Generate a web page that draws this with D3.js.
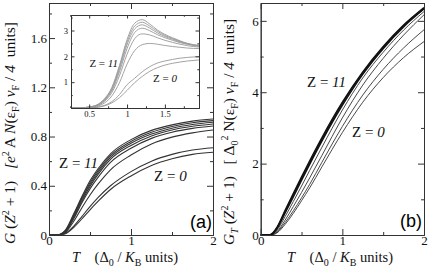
<!DOCTYPE html>
<html>
<script src="https://d3js.org/d3.v7.js"></script>
<body style="margin:0;background:#fff">
<svg id="chart" width="429" height="273"></svg>
<script>
// temperature grid (Delta0/KB units)
const tMain = [0, 0.1, 0.15, 0.2, 0.3, 0.4, 0.5, 0.6, 0.75, 1.0, 1.25, 1.5, 1.75, 2.0];
// panel (a): G(Z^2+1), curves from Z = 11 (top) down to Z = 0
const gA = [
  [0, 0, 0.01, 0.04, 0.17, 0.31, 0.44, 0.54, 0.66, 0.775, 0.85, 0.895, 0.925, 0.942],
  [0, 0, 0.01, 0.035, 0.16, 0.30, 0.425, 0.525, 0.645, 0.76, 0.835, 0.882, 0.912, 0.929],
  [0, 0, 0.008, 0.03, 0.15, 0.29, 0.41, 0.51, 0.63, 0.745, 0.82, 0.868, 0.898, 0.916],
  [0, 0, 0.007, 0.028, 0.14, 0.275, 0.395, 0.495, 0.615, 0.728, 0.805, 0.853, 0.883, 0.902],
  [0, 0, 0.006, 0.025, 0.13, 0.26, 0.375, 0.47, 0.59, 0.705, 0.785, 0.835, 0.866, 0.885],
  [0, 0, 0.005, 0.02, 0.11, 0.22, 0.325, 0.415, 0.53, 0.65, 0.74, 0.795, 0.83, 0.853],
  [0, 0, 0.003, 0.012, 0.07, 0.15, 0.23, 0.305, 0.40, 0.515, 0.60, 0.655, 0.69, 0.709],
  [0, 0, 0.002, 0.01, 0.06, 0.13, 0.205, 0.275, 0.37, 0.48, 0.565, 0.62, 0.655, 0.672]
];
// panel (b): G_T(Z^2+1)
const gB = [
  [0, 0, 0.06, 0.22, 0.70, 1.17, 1.63, 2.08, 2.73, 3.72, 4.57, 5.28, 5.88, 6.37],
  [0, 0, 0.05, 0.20, 0.66, 1.12, 1.58, 2.03, 2.68, 3.68, 4.54, 5.25, 5.86, 6.35],
  [0, 0, 0.04, 0.18, 0.62, 1.07, 1.53, 1.98, 2.63, 3.63, 4.50, 5.22, 5.83, 6.33],
  [0, 0, 0.03, 0.14, 0.52, 0.94, 1.37, 1.81, 2.46, 3.50, 4.40, 5.12, 5.74, 6.26],
  [0, 0, 0.02, 0.10, 0.42, 0.80, 1.19, 1.60, 2.23, 3.28, 4.20, 4.95, 5.60, 6.17],
  [0, 0, 0.015, 0.08, 0.35, 0.68, 1.04, 1.42, 2.04, 3.04, 3.92, 4.64, 5.24, 5.75],
  [0, 0, 0.01, 0.06, 0.30, 0.61, 0.96, 1.32, 1.91, 2.87, 3.72, 4.41, 4.97, 5.42]
];
// inset of (a)
const tInset = [0.26, 0.4, 0.5, 0.6, 0.7, 0.8, 0.9, 1.0, 1.1, 1.2, 1.3, 1.4, 1.5, 1.6, 1.7, 1.8, 1.95];
const gInset = [
  [0, 0.01, 0.04, 0.12, 0.35, 0.8, 1.65, 2.65, 3.28, 3.42, 3.25, 3.02, 2.85, 2.72, 2.6, 2.5, 2.42],
  [0, 0.01, 0.04, 0.11, 0.33, 0.76, 1.58, 2.55, 3.17, 3.32, 3.17, 2.97, 2.81, 2.69, 2.58, 2.49, 2.41],
  [0, 0.01, 0.035, 0.1, 0.31, 0.72, 1.5, 2.45, 3.06, 3.22, 3.09, 2.91, 2.77, 2.66, 2.56, 2.48, 2.40],
  [0, 0.01, 0.03, 0.09, 0.28, 0.67, 1.4, 2.3, 2.92, 3.09, 2.99, 2.84, 2.72, 2.62, 2.53, 2.46, 2.39],
  [0, 0.008, 0.025, 0.08, 0.25, 0.6, 1.25, 2.08, 2.68, 2.87, 2.83, 2.72, 2.62, 2.54, 2.47, 2.41, 2.36],
  [0, 0.005, 0.02, 0.06, 0.19, 0.47, 0.98, 1.7, 2.22, 2.45, 2.5, 2.47, 2.42, 2.38, 2.35, 2.32, 2.3],
  [0, 0.003, 0.01, 0.03, 0.1, 0.25, 0.52, 0.9, 1.15, 1.4, 1.6, 1.74, 1.82, 1.88, 1.93, 1.96, 1.99],
  [0, 0.002, 0.008, 0.025, 0.08, 0.2, 0.4, 0.68, 0.98, 1.22, 1.42, 1.56, 1.66, 1.73, 1.78, 1.82, 1.86]
];
const xTicks = [0, 1, 2], xMinor = [0.5, 1.5];
const yTicksA = [0, 0.4, 0.8, 1.2, 1.6], yMinorA = [0.2, 0.6, 1.0, 1.4, 1.8];
const yTicksB = [0, 2, 4, 6], yMinorB = [1, 3, 5];
const xTicksIn = [0.5, 1, 1.5], xMinorIn = [0.25, 0.75, 1.25, 1.75];
const yTicksIn = [1, 2, 3], yMinorIn = [0.5, 1.5, 2.5, 3.5];

const svg = d3.select("#chart");
const serif = "Liberation Serif, Times New Roman, serif";
const sans = "Liberation Sans, Arial, sans-serif";

// box with inward ticks on all four sides
function frame(x, y, o) {
  const g = svg.append("g");
  const [x0, x1] = x.range(), [y0, y1] = y.range();
  const mk = (axis, tr, vals, len, lab) => {
    const a = g.append("g").attr("transform", tr)
      .call(axis.tickValues(vals).tickSizeInner(-len).tickSizeOuter(0)
        .tickPadding(o.pad).tickFormat(lab ? d3.format("") : ""));
    a.select(".domain").attr("stroke", "#333");
    a.selectAll("line").attr("stroke", "#333");
    a.selectAll("text").attr("font-family", serif).attr("font-size", o.fs).attr("fill", "#111");
    return a;
  };
  [[o.xt, o.ml, true], [o.xm, o.ml / 2, false]].forEach(([v, l, lab]) => {
    const b = mk(d3.axisBottom(x), `translate(0,${y0})`, v, l, lab);
    if (o.xdy) b.selectAll("text").attr("dy", o.xdy);
    mk(d3.axisTop(x), `translate(0,${y1})`, v, l, false);
  });
  [[o.yt, o.ml, true], [o.ym, o.ml / 2, false]].forEach(([v, l, lab]) => {
    mk(d3.axisLeft(y), `translate(${x0},0)`, v, l, lab);
    mk(d3.axisRight(y), `translate(${x1},0)`, v, l, false);
  });
  return g;
}

function curves(t, data, x, y, color, width) {
  const line = d3.line().x((d, i) => x(t[i])).y(d => y(d)).curve(d3.curveMonotoneX);
  svg.append("g").selectAll("path").data(data).join("path")
    .attr("d", line).attr("fill", "none")
    .attr("stroke", color).attr("stroke-width", width);
}

function txt(xp, yp, parts, fs, anchor, rot) {
  const t = svg.append("text").attr("font-family", serif).attr("font-size", fs)
    .attr("text-anchor", anchor || "start").attr("fill", "#111")
    .attr("xml:space", "preserve");
  if (rot) t.attr("transform", `translate(${xp},${yp}) rotate(-90)`);
  else t.attr("x", xp).attr("y", yp);
  parts.forEach(p => {
    const s = t.append("tspan").text(p[0]);
    if (p[1] === "i") s.attr("font-style", "italic");
    if (p[2]) s.attr("dy", p[2]);
    if (p[3]) s.attr("font-size", p[3]);
  });
  return t;
}

// ---- panel (a)
const xA = d3.scaleLinear().domain([0, 2]).range([49, 213]);
const yA = d3.scaleLinear().domain([0, 1.885]).range([235, 3]);
curves(tMain, gA, xA, yA, "#333", 1.1);
frame(xA, yA, {xt: xTicks, xm: xMinor, yt: yTicksA, ym: yMinorA, ml: 6, pad: 2, fs: 13, xdy: "0.62em"});

// inset
const xI = d3.scaleLinear().domain([0.26, 1.95]).range([71, 199]);
const yI = d3.scaleLinear().domain([0, 3.6]).range([108, 15]);
svg.append("rect").attr("x", 71).attr("y", 15).attr("width", 128).attr("height", 93).attr("fill", "#fff");
curves(tInset, gInset, xI, yI, "#999", 0.9);
frame(xI, yI, {xt: xTicksIn, xm: xMinorIn, yt: yTicksIn, ym: yMinorIn, ml: 3.5, pad: 3, fs: 8.5});
txt(118, 67, [["Z = "], ["11", "i"]], 11, "end");
txt(153, 82, [["Z = "], ["0", "i"]], 11, "start");

// ---- panel (b)
const xB = d3.scaleLinear().domain([0, 2]).range([260.7, 424]);
const yB = d3.scaleLinear().domain([0, 6.5]).range([235, 3]);
curves(tMain, gB.slice(3), xB, yB, "#333", 0.9);
curves(tMain, gB.slice(0, 3), xB, yB, "#111", 1.4);
frame(xB, yB, {xt: xTicks, xm: xMinor, yt: yTicksB, ym: yMinorB, ml: 6, pad: 2, fs: 13, xdy: "0.62em"});

// annotations
txt(98, 168, [["Z = "], ["11", "i"]], 15, "end");
txt(154, 181, [["Z = "], ["0", "i"]], 15, "start");
txt(346, 87, [["Z = "], ["11", "i"]], 15, "end");
txt(352, 137, [["Z = "], ["0", "i"]], 15, "start");
svg.append("text").attr("x", 212).attr("y", 228).attr("text-anchor", "end")
  .attr("font-family", sans).attr("font-size", 18).text("(a)");
svg.append("text").attr("x", 422).attr("y", 227).attr("text-anchor", "end")
  .attr("font-family", sans).attr("font-size", 18).text("(b)");

// axis titles
const xlab = (x0) => txt(x0, 262, [["T", "i"], ["    ("], ["\u0394"], ["0", null, 4, 10], [" / ", null, -4, 14.5], ["K", "i"], ["B", null, 4, 10], [" units)", null, -4, 14.5]], 14.5, "start");
xlab(72);
xlab(287);

const f = 15.5, s = 10;
txt(15, 244, [["G", "i"], [" ("], ["Z", "i"], ["2", null, -6, s], [" + 1)", null, 6, f], ["   [e", "i"], ["2", null, -6, s], [" A ", null, 6, f], ["N", "i"], ["(\u03b5"], ["F", null, 4, s], [")", null, -4, f], [" v", "i"], ["F", null, 4, s], [" / ", null, -4, f], ["4", "i"], ["  units]"]], f, "start", true);
txt(234, 245, [["G", "i"], ["T", "i", 4, s], [" (", null, -4, f], ["Z", "i"], ["2", null, -6, s], [" + 1)", null, 6, f], ["   [ \u0394"], ["0", null, 4, s], ["2", null, -10, s], [" N(\u03b5", null, 6, f], ["F", null, 4, s], [")", null, -4, f], [" v", "i"], ["F", null, 4, s], [" / ", null, -4, f], ["4", "i"], ["  units]"]], f, "start", true);
</script>
</body>
</html>
